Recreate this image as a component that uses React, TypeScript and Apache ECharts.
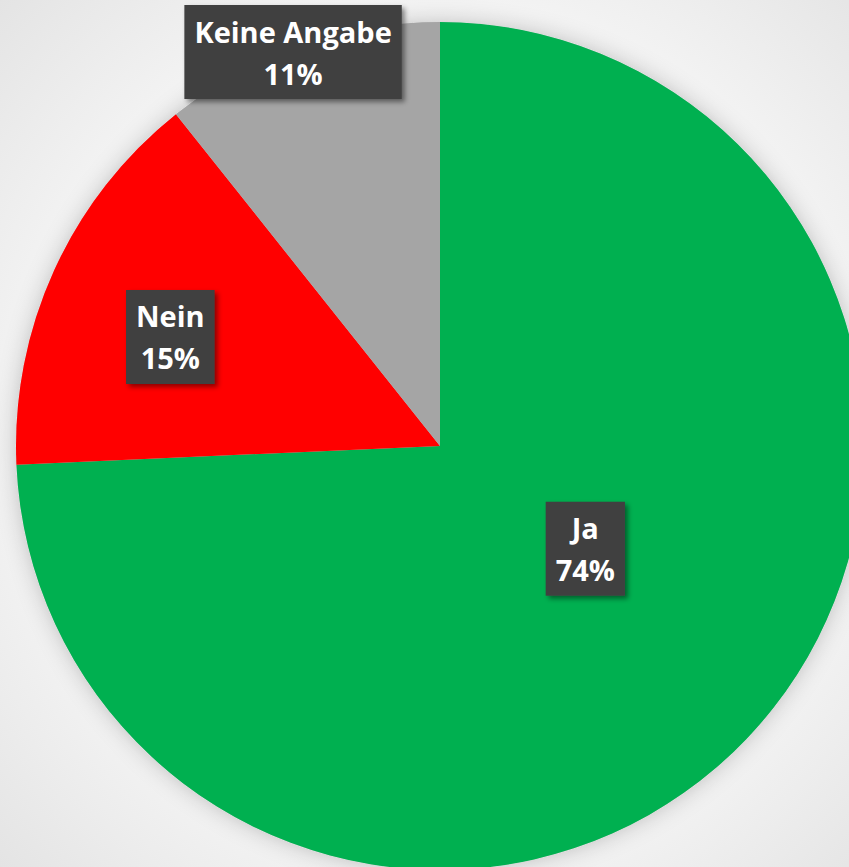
import React, { useEffect, useRef } from "react";
import * as echarts from "echarts";

const categories = ["Ja", "Nein", "Keine Angabe"];
const values = [74.3, 15.0, 10.7];
const colors = ["#00B050", "#FF0000", "#A5A5A5"];
// label nudges relative to library's inside position
const labelNudge = [
  [-10, -46],
  [-74, -20],
  [-76, -191],
];

export default function App() {
  const ref = useRef<HTMLDivElement>(null);
  useEffect(() => {
    document.body.style.margin = "0";
    const chart = echarts.init(ref.current!, null, { renderer: "svg" });
    chart.setOption({
      animation: false,
      backgroundColor: new echarts.graphic.RadialGradient(0.52, 0.5, 0.75, [
        { offset: 0, color: "#ffffff" },
        { offset: 0.6, color: "#f6f6f6" },
        { offset: 1, color: "#e2e2e2" },
      ]),
      series: [
        {
          type: "pie",
          silent: true,
          center: [440, 446],
          radius: 424,
          label: { show: false },
          labelLine: { show: false },
          itemStyle: {
            color: "#cccccc",
            shadowBlur: 22,
            shadowColor: "rgba(0,0,0,0.22)",
            shadowOffsetX: 0,
            shadowOffsetY: 0,
          },
          data: [{ value: 1, name: "" }],
          z: 1,
        },
        {
          type: "pie",
          center: [440, 446],
          radius: 424,
          startAngle: 90,
          clockwise: true,
          percentPrecision: 0,
          z: 2,
          data: categories.map((c, i) => ({
            name: c,
            value: values[i],
            itemStyle: { color: colors[i] },
          })),
          label: {
            show: true,
            position: "inside",
            formatter: "{b}\n{d}%",
            color: "#ffffff",
            fontFamily: "Open Sans",
            fontWeight: "bold",
            fontSize: 29,
            lineHeight: 42,
            backgroundColor: "#404040",
            padding: [6, 10, 4, 10],
            shadowColor: "rgba(0,0,0,0.45)",
            shadowBlur: 5,
            shadowOffsetX: 3,
            shadowOffsetY: 3,
          },
          labelLayout: (p: any) => ({
            dx: labelNudge[p.dataIndex][0],
            dy: labelNudge[p.dataIndex][1],
          }),
          labelLine: { show: false },
        },
      ],
    });
    return () => chart.dispose();
  }, []);
  return (
    <div
      ref={ref}
      style={{ position: "absolute", left: 0, top: 0, width: 849, height: 867 }}
    />
  );
}
